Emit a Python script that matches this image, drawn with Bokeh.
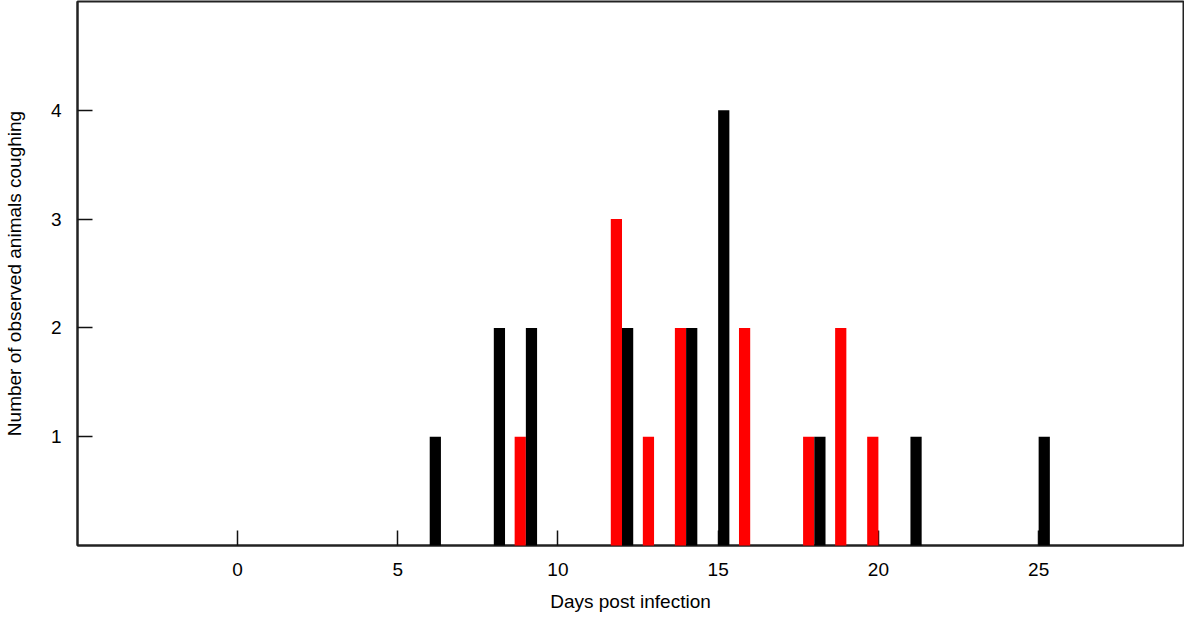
from bokeh.plotting import figure
from bokeh.models import FixedTicker, Range1d
from bokeh.transform import dodge
from bokeh.embed import file_html
from bokeh.resources import INLINE

# Data
days_black = [6, 8, 9, 12, 14, 15, 18, 21, 25]
count_black = [1, 2, 2, 2, 2, 4, 1, 1, 1]
days_red = [9, 12, 13, 14, 16, 18, 19, 20]
count_red = [1, 3, 1, 2, 2, 1, 2, 1]
x_ticks = [0, 5, 10, 15, 20, 25]
y_ticks = [1, 2, 3, 4]

FONT = "Liberation Sans"

p = figure(
    width=1184, height=615,
    x_range=Range1d(-4.99, 29.52), y_range=Range1d(0, 5.0),
    output_backend="svg", toolbar_location=None,
    min_border_left=77, min_border_right=1, min_border_top=1, min_border_bottom=70,
)
p.background_fill_color = "white"
p.border_fill_color = "white"
p.outline_line_color = "#222222"
p.outline_line_width = 2
p.xgrid.visible = False
p.ygrid.visible = False

r_red = p.vbar(x=dodge("x", -0.175, range=p.x_range), top="top", width=0.35,
               source=dict(x=days_red, top=count_red),
               fill_color="#FF0000", line_color=None)
r_black = p.vbar(x=dodge("x", 0.175, range=p.x_range), top="top", width=0.35,
                 source=dict(x=days_black, top=count_black),
                 fill_color="#000000", line_color=None)
r_red.level = "overlay"
r_black.level = "overlay"

for ax in (p.xaxis[0], p.yaxis[0]):
    ax.major_tick_in = 15
    ax.major_tick_out = 0
    ax.minor_tick_in = 0
    ax.minor_tick_out = 0
    ax.major_tick_line_color = "#111111"
    ax.major_tick_line_width = 1.5
    ax.axis_line_color = "#222222"
    ax.axis_line_width = 2
    ax.major_label_text_font = FONT
    ax.major_label_text_font_size = "19px"
    ax.major_label_text_color = "#000000"
    ax.axis_label_text_font = FONT
    ax.axis_label_text_font_size = "19px"
    ax.axis_label_text_font_style = "normal"
    ax.axis_label_text_color = "#000000"

p.xaxis[0].ticker = FixedTicker(ticks=x_ticks)
p.yaxis[0].ticker = FixedTicker(ticks=y_ticks)
p.xaxis[0].axis_label = "Days post infection"
p.yaxis[0].axis_label = "Number of observed animals coughing"
p.xaxis[0].major_label_standoff = 17
p.xaxis[0].axis_label_standoff = 12
p.yaxis[0].major_label_standoff = 16
p.yaxis[0].axis_label_standoff = 23

open("out.html", "w").write(file_html(p, INLINE))
